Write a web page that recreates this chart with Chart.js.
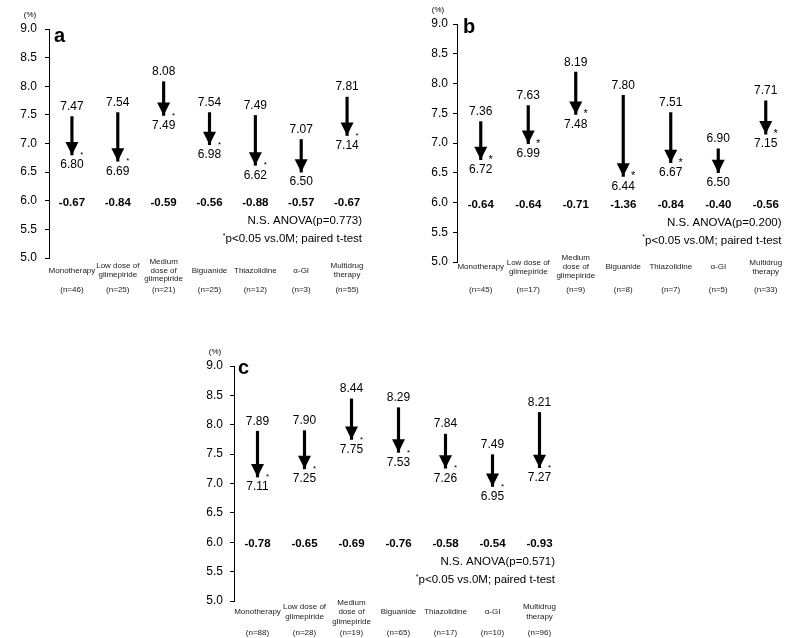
<!DOCTYPE html>
<html>
<head>
<meta charset="utf-8">
<script src="https://cdn.jsdelivr.net/npm/chart.js@4"></script>
<style>
  html, body { margin: 0; padding: 0; background: #fff; overflow: hidden; }
  body { width: 787px; height: 638px; position: relative; }
  canvas { position: absolute; }
</style>
</head>
<body>
<canvas id="chartA" width="392" height="310" style="left:0;top:0"></canvas>
<canvas id="chartB" width="400" height="310" style="left:395px;top:0"></canvas>
<canvas id="chartC" width="400" height="318" style="left:190px;top:320px"></canvas>
<script>
// 공통 카테고리와 눈금
const categories = ['Monotherapy', ['Low dose of', 'glimepiride'], ['Medium', 'dose of', 'glimepiride'], 'Biguanide', 'Thiazolidine', 'α-GI', ['Multidrug', 'therapy']];
const yMin = 5.0;
const yMax = 9.0;
const yStep = 0.5;
const diffRowAt = 6.0;
const footnote = 'p<0.05 vs.0M; paired t-test';

// a
const beforeA = [7.47, 7.54, 8.08, 7.54, 7.49, 7.07, 7.81];
const afterA = [6.80, 6.69, 7.49, 6.98, 6.62, 6.50, 7.14];
const diffA = [-0.67, -0.84, -0.59, -0.56, -0.88, -0.57, -0.67];
const starA = [true, true, true, true, true, false, true];
const nA = [46, 25, 21, 25, 12, 3, 55];
const anovaA = 'N.S. ANOVA(p=0.773)';

// b
const beforeB = [7.36, 7.63, 8.19, 7.80, 7.51, 6.90, 7.71];
const afterB = [6.72, 6.99, 7.48, 6.44, 6.67, 6.50, 7.15];
const diffB = [-0.64, -0.64, -0.71, -1.36, -0.84, -0.40, -0.56];
const starB = [true, true, true, true, true, false, true];
const nB = [45, 17, 9, 8, 7, 5, 33];
const anovaB = 'N.S. ANOVA(p=0.200)';

// c
const beforeC = [7.89, 7.90, 8.44, 8.29, 7.84, 7.49, 8.21];
const afterC = [7.11, 7.25, 7.75, 7.53, 7.26, 6.95, 7.27];
const diffC = [-0.78, -0.65, -0.69, -0.76, -0.58, -0.54, -0.93];
const starC = [true, true, true, true, true, true, true];
const nC = [88, 28, 19, 65, 17, 10, 96];
const anovaC = 'N.S. ANOVA(p=0.571)';

const FONT = 'Arial, "Liberation Sans", sans-serif';
Chart.defaults.font.family = FONT;
Chart.defaults.color = '#000';

// 화살표 머리, 숫자, 카테고리 라벨을 그리는 플러그인
const arrowLabels = {
    id: 'arrowLabels',
    afterDatasetsDraw(chart, args, opts) {
        const ctx = chart.ctx;
        const xs = chart.scales.x;
        const ys = chart.scales.y;
        const area = chart.chartArea;
        const rowY = ys.getPixelForValue(diffRowAt);

        ctx.save();
        ctx.fillStyle = '#000';
        ctx.textAlign = 'center';
        ctx.textBaseline = 'middle';

        opts.before.forEach((b, i) => {
            const px = xs.getPixelForValue(i);
            const top = ys.getPixelForValue(b);
            const tip = ys.getPixelForValue(opts.after[i]);

            ctx.fillStyle = '#000';
            ctx.beginPath();
            ctx.moveTo(px - 6.5, tip - 13);
            ctx.lineTo(px + 6.5, tip - 13);
            ctx.lineTo(px, tip);
            ctx.closePath();
            ctx.fill();

            ctx.font = '12px ' + FONT;
            ctx.fillText(b.toFixed(2), px, top - 10);
            ctx.fillText(opts.after[i].toFixed(2), px, tip + 10);

            if (opts.star[i]) {
                ctx.font = opts.starSize + 'px ' + FONT;
                ctx.fillText('*', px + 10, tip);
            }

            ctx.font = 'bold 11.5px ' + FONT;
            ctx.fillText(opts.diff[i].toFixed(2), px, rowY + 2);

            // 카테고리 이름과 n 수
            ctx.fillStyle = '#222';
            ctx.font = '8px ' + FONT;
            const lines = Array.isArray(categories[i]) ? categories[i] : [categories[i]];
            lines.forEach((ln, j) => {
                ctx.fillText(ln, px, area.bottom + opts.catDy + (j - (lines.length - 1) / 2) * opts.lineH);
            });
            ctx.fillText('(n=' + opts.n[i] + ')', px, area.bottom + opts.nDy);
        });

        // ANOVA 및 주석
        ctx.fillStyle = '#000';
        ctx.textAlign = 'right';
        ctx.font = '11.5px ' + FONT;
        ctx.fillText(opts.anova, area.right - 8, rowY + 20);
        ctx.fillText(footnote, area.right - 8, rowY + 38);
        const w = ctx.measureText(footnote).width;
        ctx.font = '7px ' + FONT;
        ctx.fillText('*', area.right - 8 - w, rowY + 35);

        // (%) 와 패널 문자
        ctx.textAlign = 'center';
        ctx.font = '8px ' + FONT;
        ctx.fillText('(%)', area.left - 19, area.top - 14);
        ctx.textAlign = 'left';
        ctx.textBaseline = 'alphabetic';
        ctx.font = 'bold 20px ' + FONT;
        ctx.fillText(opts.letter, area.left + opts.letterDx, area.top + opts.letterDy);
        ctx.restore();
    }
};

function makePanel(canvasId, before, after, diff, star, nList, anova, lay) {
    const ctx = document.getElementById(canvasId).getContext('2d');
    return new Chart(ctx, {
        type: 'bar',
        data: {
            labels: categories,
            datasets: [{
                data: before.map((b, i) => [after[i], b]),
                backgroundColor: '#000',
                borderWidth: 0,
                barThickness: 2.5
            }]
        },
        options: {
            responsive: false,
            animation: false,
            layout: { padding: { top: lay.padTop, right: lay.padRight, left: 0, bottom: lay.padBottom } },
            plugins: {
                legend: { display: false },
                tooltip: { enabled: false },
                arrowLabels: {
                    before: before, after: after, diff: diff, star: star, n: nList, anova: anova,
                    letter: lay.letter, letterDx: lay.letterDx, letterDy: lay.letterDy, starSize: lay.starSize,
                    catDy: lay.catDy, lineH: lay.lineH, nDy: lay.nDy
                }
            },
            scales: {
                y: {
                    min: yMin,
                    max: yMax,
                    grid: { drawOnChartArea: false, drawTicks: true, tickLength: 4, color: '#000' },
                    border: { display: true, color: '#000', width: 1 },
                    ticks: {
                        stepSize: yStep,
                        padding: lay.tickPad,
                        font: { size: 12 },
                        color: '#000',
                        callback: v => Number(v).toFixed(1)
                    },
                    afterFit: s => { s.width = lay.yWidth; }
                },
                x: {
                    display: false,
                    offset: true
                }
            }
        },
        plugins: [arrowLabels]
    });
}

makePanel('chartA', beforeA, afterA, diffA, starA, nA, anovaA, {
    letter: 'a', letterDx: 5, letterDy: 13, starSize: 8,
    yWidth: 49, padTop: 29, padRight: 22, padBottom: 52, tickPad: 8,
    catDy: 12.5, lineH: 8.5, nDy: 32
});
makePanel('chartB', beforeB, afterB, diffB, starB, nB, anovaB, {
    letter: 'b', letterDx: 6, letterDy: 9, starSize: 11,
    yWidth: 62, padTop: 24, padRight: 5.5, padBottom: 48, tickPad: 5,
    catDy: 5, lineH: 9, nDy: 28
});
makePanel('chartC', beforeC, afterC, diffC, starC, nC, anovaC, {
    letter: 'c', letterDx: 4, letterDy: 8, starSize: 8,
    yWidth: 44, padTop: 46, padRight: 27, padBottom: 37, tickPad: 7,
    catDy: 11, lineH: 9.5, nDy: 32
});
</script>
</body>
</html>
